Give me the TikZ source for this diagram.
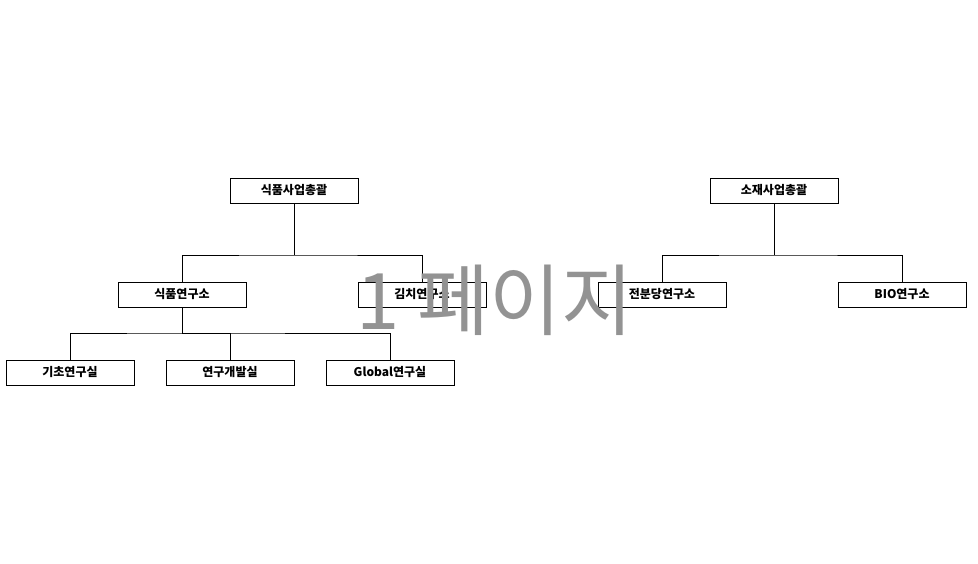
\documentclass[tikz,border=0pt]{standalone}
\usepackage{fontspec}
\setmainfont{Noto Sans CJK KR}
\usetikzlibrary{positioning}

\begin{document}
\begin{tikzpicture}[
    x=1pt, y=-1pt,
    % Styles
    unit/.style={% For org boxes
        rectangle,
        draw=black,
        thick,
        fill=white,
        minimum width=128pt,
        minimum height=25pt,
        inner sep=1pt,
        font=\bfseries\fontsize{12}{13}\selectfont,
    },
    link/.style={% For connectors
        thick,
    },
    ]
    \useasboundingbox (0,0) rectangle (978,564);

    % Coordinates
    \coordinate (busA) at (294,255);
    \coordinate (busB) at (774,255);
    \coordinate (busC) at (182,333);

    % Draw top units
    \node [unit] (food) at (294,190.5) {식품사업총괄};
    \node [unit] (mat) at (774,190.5) {소재사업총괄};

    % Draw labs
    \node [unit] (foodlab) at (182,294.5) {식품연구소};
    \node [unit] (kimchi) at (422,294.5) {김치연구소};
    \node [unit] (starch) at (662,294.5) {전분당연구소};
    \node [unit] (bio) at (902,294.5) {BIO연구소};

    % Draw rooms
    \node [unit] (basic) at (70,372.5) {기초연구실};
    \node [unit] (rnd) at (230,372.5) {연구개발실};
    \node [unit] (global) at (390,372.5) {Global연구실};

    % Connect all
    \draw [link] (food) -- (busA);
    \draw [link] (foodlab) |- (busA) -| (kimchi);
    \draw [link] (mat) -- (busB);
    \draw [link] (starch) |- (busB) -| (bio);
    \draw [link] (foodlab) -- (busC);
    \draw [link] (basic) |- (busC) -| (global);
    \draw [link] (busC) -| (rnd);

    % Watermark
    \node [text=gray!85, font=\fontsize{78}{80}\selectfont] (page) at (495,300) {1 페이지};

\end{tikzpicture}
\end{document}
